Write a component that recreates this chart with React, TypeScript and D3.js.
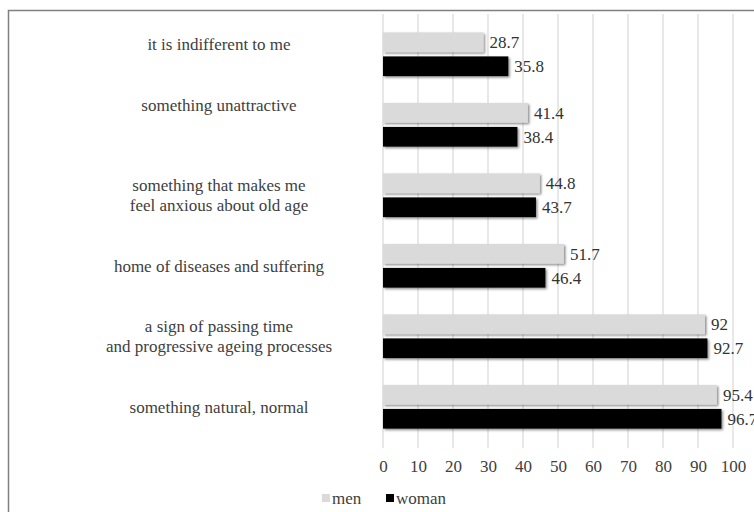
import React, { useRef, useEffect } from 'react';
import * as d3 from 'd3';

// categories, top to bottom (lines of each label; an empty line nudges the label up like the source)
const categories = [
  ['it is indifferent to me', ''],
  ['something unattractive', '', ''],
  ['something that makes me', 'feel anxious about old age'],
  ['home of diseases and suffering'],
  ['a sign of passing time', 'and progressive ageing processes'],
  ['something natural, normal'],
];
const seriesNames = ['men', 'woman'];
const menValues = [28.7, 41.4, 44.8, 51.7, 92, 95.4];
const womanValues = [35.8, 38.4, 43.7, 46.4, 92.7, 96.7];
const xTicks = [0, 10, 20, 30, 40, 50, 60, 70, 80, 90, 100];

const colors = { men: '#dadada', woman: '#000000' };

export default function App() {
  const svgRef = useRef<SVGSVGElement>(null);
  const width = 754;
  const height = 512;

  useEffect(() => {
    const svg = d3.select(svgRef.current);
    svg.selectAll('*').remove();

    const font = '"Liberation Serif", "DejaVu Serif", serif';
    const fontSize = 17;

    // soft shadow under the bars
    const defs = svg.append('defs');
    defs.append('filter')
      .attr('id', 'shadow')
      .attr('x', '-5%').attr('y', '-30%').attr('width', '110%').attr('height', '170%')
      .append('feDropShadow')
      .attr('dx', 1.5).attr('dy', 1.5).attr('stdDeviation', 1)
      .attr('flood-color', '#000').attr('flood-opacity', 0.45);

    svg.append('rect')
      .attr('width', width).attr('height', height)
      .attr('fill', 'white');

    // outer frame (right / bottom edges fall outside the picture)
    svg.append('rect')
      .attr('x', 8.5).attr('y', 10.5)
      .attr('width', 800).attr('height', 600)
      .attr('fill', 'none')
      .attr('stroke', '#808080')
      .attr('stroke-width', 1.5);

    const x = d3.scaleLinear().domain([0, 100]).range([383, 733]);

    const y = d3.scaleBand<number>()
      .domain(d3.range(categories.length))
      .range([19, 442])
      .paddingInner(0.38)
      .paddingOuter(0.19);

    const ySub = d3.scaleBand<string>()
      .domain(seriesNames)
      .range([0, y.bandwidth()])
      .paddingInner(0.18);

    // vertical gridlines
    svg.append('g')
      .selectAll('line')
      .data(xTicks)
      .join('line')
      .attr('x1', d => x(d)).attr('x2', d => x(d))
      .attr('y1', 14).attr('y2', 448)
      .attr('stroke', '#dcdcdc')
      .attr('stroke-width', 1.3);

    // x axis labels
    svg.append('g')
      .attr('transform', 'translate(0,448)')
      .call(d3.axisBottom(x).tickValues(xTicks).tickSize(0).tickPadding(12).tickFormat(d => `${d}`))
      .call(g => g.select('.domain').remove())
      .call(g => g.selectAll('.tick text')
        .attr('font-size', fontSize)
        .attr('font-family', font)
        .attr('fill', '#404040'));

    // category labels
    const lineH = 20;
    categories.forEach((lines, i) => {
      const cy = (y(i) ?? 0) + y.bandwidth() / 2;
      const t = svg.append('text')
        .attr('x', 219)
        .attr('text-anchor', 'middle')
        .attr('font-size', fontSize)
        .attr('font-family', font)
        .attr('fill', '#404040');
      lines.forEach((ln, j) => {
        t.append('tspan')
          .attr('x', 219)
          .attr('y', cy + (j - (lines.length - 1) / 2) * lineH)
          .attr('dy', '0.35em')
          .text(ln);
      });
    });

    const rows = categories.map((_, i) => ({ i, men: menValues[i], woman: womanValues[i] }));

    seriesNames.forEach(name => {
      const g = svg.append('g');
      g.selectAll('rect')
        .data(rows)
        .join('rect')
        .attr('x', x(0))
        .attr('y', d => (y(d.i) ?? 0) + (ySub(name) ?? 0))
        .attr('width', d => x(d[name]) - x(0))
        .attr('height', ySub.bandwidth())
        .attr('fill', colors[name])
        .attr('filter', 'url(#shadow)');

      g.selectAll('text')
        .data(rows)
        .join('text')
        .attr('x', d => x(d[name]) + 6)
        .attr('y', d => (y(d.i) ?? 0) + (ySub(name) ?? 0) + ySub.bandwidth() / 2)
        .attr('dy', '0.35em')
        .attr('font-size', fontSize)
        .attr('font-family', font)
        .attr('fill', '#333')
        .text(d => `${d[name]}`);
    });

    // legend
    const legend = svg.append('g').attr('transform', 'translate(322,498)');
    const legendX = [0, 64];
    seriesNames.forEach((name, k) => {
      legend.append('rect')
        .attr('x', legendX[k]).attr('y', -4)
        .attr('width', 8).attr('height', 8)
        .attr('fill', colors[name]);
      legend.append('text')
        .attr('x', legendX[k] + 10)
        .attr('y', 0)
        .attr('dy', '0.35em')
        .attr('font-size', fontSize)
        .attr('font-family', font)
        .attr('fill', '#404040')
        .text(name);
    });
  }, []);

  return (
    <svg
      ref={svgRef}
      width={width}
      height={height}
      viewBox={`0 0 ${width} ${height}`}
      style={{ position: 'absolute', left: 0, top: 0, display: 'block' }}
    />
  );
}
